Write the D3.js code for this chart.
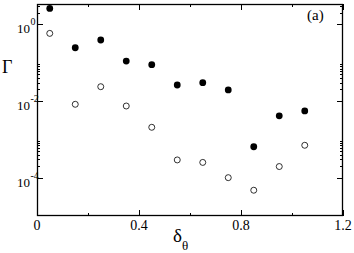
<!DOCTYPE html>
<html><head><meta charset="utf-8">
<script src="https://cdn.jsdelivr.net/npm/d3@7"></script>
<style>body{margin:0;background:#fff}svg{display:block}</style>
</head><body>
<script>
const filledX = [0.05,0.15,0.25,0.35,0.45,0.55,0.65,0.75,0.85,0.95,1.05];
const filledY = [2.6,0.245,0.39,0.11,0.0885,0.0261,0.030,0.0194,0.00064,0.0041,0.0055];
const openX = [0.05,0.15,0.25,0.35,0.45,0.55,0.65,0.75,0.85,0.95,1.05];
const openY = [0.58,0.0082,0.0236,0.0074,0.00206,0.00029,0.00025,0.0001,0.000047,0.000195,0.0007];
const xTicks = [0,0.4,0.8,1.2];
const xMinor = [0.2,0.6,1.0];
const yMajor = [-4,-2,0];
const yMinorDecades = [-4,-2,0];

const FONT = "'Liberation Serif', 'DejaVu Serif', 'Times New Roman', serif";
const W=354,H=253;
const L=37,R=343,T=4,B=216;
const svg=d3.select("body").append("svg").attr("width",W).attr("height",H)
  .attr("font-family",FONT);
const x=d3.scaleLinear().domain([0,1.2]).range([L,R]);
const y=d3.scaleLog().domain([1e-5,Math.pow(10,0.53)]).range([B,T]);

const minors=[];
yMinorDecades.forEach(m=>{for(let k=2;k<=9;k++){const v=k*Math.pow(10,m); if(v<=y.domain()[1]) minors.push(v);}});

const g=svg.append("g");
function vtick(xp,yp,len){g.append("line").attr("x1",xp).attr("x2",xp).attr("y1",yp).attr("y2",yp+len).attr("stroke","#000").attr("stroke-width",1);}
function htick(xp,yp,len){g.append("line").attr("x1",xp).attr("x2",xp+len).attr("y1",yp).attr("y2",yp).attr("stroke","#000").attr("stroke-width",1);}

xTicks.forEach(v=>{vtick(Math.round(x(v))+0.5,B,-6);vtick(Math.round(x(v))+0.5,T,6);});
xMinor.forEach(v=>{vtick(Math.round(x(v))+0.5,B,-3);vtick(Math.round(x(v))+0.5,T,3);});
yMajor.forEach(e=>{const yp=Math.round(y(Math.pow(10,e)))+0.5;htick(L,yp,6);htick(R,yp,-6);});
minors.forEach(v=>{const yp=Math.round(y(v))+0.5;htick(L,yp,3);htick(R,yp,-3);});

g.append("rect").attr("x",L+0.5).attr("y",T+0.5).attr("width",R-L-1).attr("height",B-T-1)
  .attr("fill","none").attr("stroke","#000").attr("stroke-width",1.3);

xTicks.forEach(v=>{svg.append("text").attr("x",x(v)).attr("y",230).attr("text-anchor","middle")
  .attr("font-size",14).attr("fill","#000").text(String(v));});
yMajor.forEach(e=>{const yp=y(Math.pow(10,e));
  svg.append("text").attr("x",30).attr("y",yp+9).attr("text-anchor","end").attr("font-size",13).attr("fill","#000").text("10");
  svg.append("text").attr("x",30.5).attr("y",yp+1).attr("font-size",10).attr("fill","#000").text(e===0?"0":"-"+(-e));
});

svg.append("text").attr("x",2).attr("y",73).attr("font-size",18).attr("fill","#000").text("\u0393");
const xl=svg.append("text").attr("x",173).attr("y",242).attr("font-size",19).attr("fill","#000");
xl.append("tspan").text("\u03b4");
xl.append("tspan").attr("font-size",13).attr("dy",8).text("\u03b8");
svg.append("text").attr("x",307).attr("y",20).attr("font-size",15).attr("fill","#000").text("(a)");

svg.append("g").selectAll("circle").data(filledX.map((d,i)=>[d,filledY[i]])).join("circle")
  .attr("cx",d=>x(d[0])).attr("cy",d=>y(d[1])).attr("r",3.4).attr("fill","#000");
svg.append("g").selectAll("circle").data(openX.map((d,i)=>[d,openY[i]])).join("circle")
  .attr("cx",d=>x(d[0])).attr("cy",d=>y(d[1])).attr("r",3).attr("fill","none").attr("stroke","#000").attr("stroke-width",0.8);
</script>
</body></html>
